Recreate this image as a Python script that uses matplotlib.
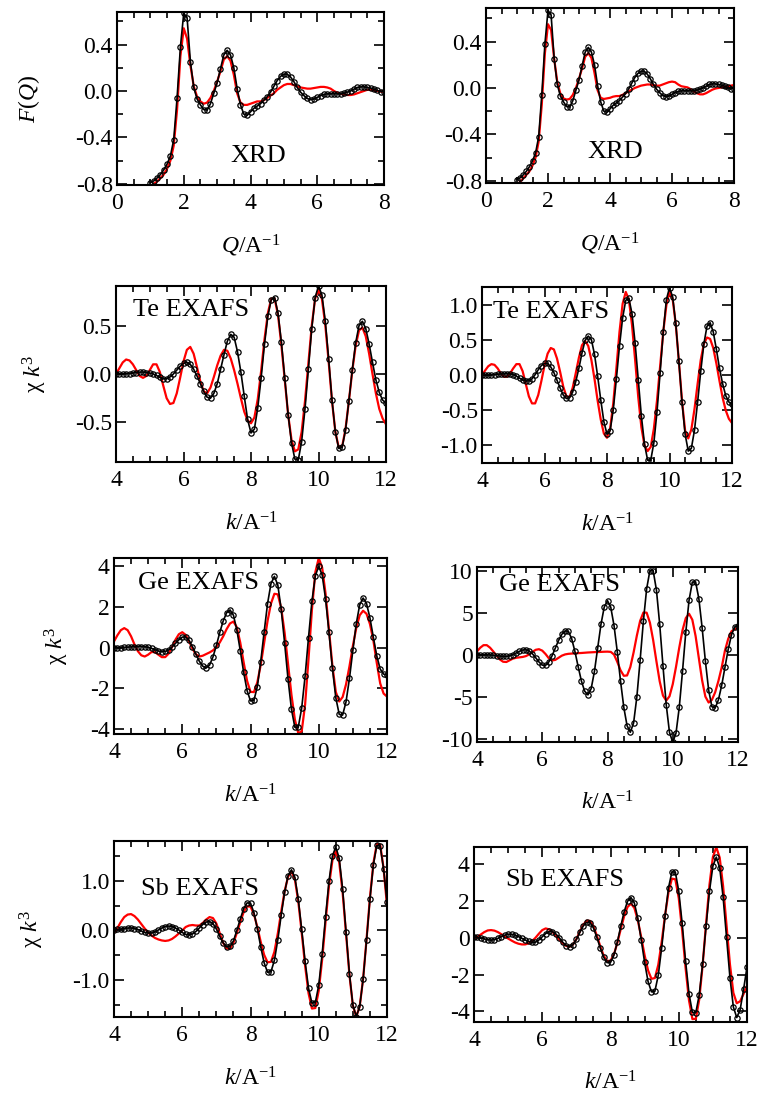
import numpy as np
import matplotlib
matplotlib.use("Agg")
import matplotlib.pyplot as plt
from matplotlib.ticker import MultipleLocator, FuncFormatter, NullLocator

plt.rcParams["font.family"] = "serif"
plt.rcParams["font.serif"] = ["Liberation Serif", "DejaVu Serif"]
plt.rcParams["mathtext.fontset"] = "custom"
plt.rcParams["mathtext.rm"] = "Liberation Serif"
plt.rcParams["mathtext.it"] = "Liberation Serif:italic"
plt.rcParams["axes.unicode_minus"] = False

# sampling grids
q = np.round(np.arange(1.0, 8.01, 0.1), 1)
k = np.round(np.arange(4.0, 12.01, 0.1), 1)

# X-ray structure factor F(Q): experiment and the two model fits
xrd_exp = [
    -0.79, -0.775, -0.75, -0.72, -0.68, -0.63, -0.56, -0.42, -0.06, 0.38,
    0.67, 0.63, 0.25, 0.03, -0.07, -0.12, -0.16, -0.165, -0.11, -0.02,
    0.07, 0.19, 0.31, 0.35, 0.31, 0.20, 0.02, -0.12, -0.20, -0.21,
    -0.18, -0.15, -0.13, -0.11, -0.08, -0.05, -0.01, 0.04, 0.09, 0.125,
    0.145, 0.145, 0.12, 0.08, 0.03, -0.01, -0.04, -0.065, -0.075, -0.07,
    -0.055, -0.04, -0.03, -0.025, -0.025, -0.025, -0.025, -0.025, -0.02, -0.01,
    0.0, 0.015, 0.03, 0.035, 0.035, 0.03, 0.025, 0.015, 0.005, -0.005,
    -0.005]
xrd_fit_a = [
    -0.84, -0.80, -0.78, -0.75, -0.72, -0.67, -0.60, -0.47, -0.16, 0.30,
    0.54, 0.45, 0.22, 0.04, -0.05, -0.09, -0.11, -0.10, -0.06, 0.0,
    0.08, 0.17, 0.27, 0.30, 0.26, 0.14, -0.02, -0.10, -0.12, -0.12,
    -0.11, -0.10, -0.09, -0.09, -0.08, -0.06, -0.04, -0.02, 0.01, 0.03,
    0.05, 0.06, 0.06, 0.05, 0.04, 0.03, 0.025, 0.02, 0.02, 0.025,
    0.03, 0.035, 0.035, 0.03, 0.02, 0.0, -0.015, -0.025, -0.03, -0.035,
    -0.035, -0.03, -0.02, -0.01, 0.0, 0.01, 0.01, 0.005, 0.0, -0.005,
    -0.01]
xrd_fit_b = [
    -0.84, -0.81, -0.78, -0.75, -0.72, -0.67, -0.60, -0.46, -0.14, 0.30,
    0.55, 0.50, 0.25, 0.05, -0.05, -0.09, -0.10, -0.095, -0.06, 0.0,
    0.08, 0.17, 0.27, 0.30, 0.26, 0.13, -0.02, -0.085, -0.095, -0.09,
    -0.085, -0.075, -0.07, -0.07, -0.06, -0.045, -0.03, -0.015, 0.0, 0.01,
    0.02, 0.025, 0.03, 0.03, 0.025, 0.02, 0.02, 0.03, 0.04, 0.05,
    0.055, 0.05, 0.03, 0.015, 0.01, 0.005, -0.01, -0.03, -0.045, -0.055,
    -0.055, -0.045, -0.03, -0.015, -0.005, 0.0, 0.005, 0.01, 0.015, 0.02,
    0.025]

# Te K-edge EXAFS, k^3 weighted
te_exp_a = [
    0.0, 0.0, 0.0, 0.005, 0.005, 0.01, 0.015, 0.02, 0.02, 0.015,
    0.01, 0.0, -0.015, -0.035, -0.05, -0.05, -0.03, 0.0, 0.04, 0.08,
    0.11, 0.12, 0.10, 0.05, -0.02, -0.10, -0.18, -0.24, -0.25, -0.20,
    -0.10, 0.05, 0.20, 0.34, 0.41, 0.38, 0.23, 0.02, -0.23, -0.47,
    -0.61, -0.57, -0.35, -0.04, 0.31, 0.60, 0.77, 0.79, 0.63, 0.33,
    -0.04, -0.42, -0.71, -0.88, -0.89, -0.70, -0.36, 0.05, 0.47, 0.79,
    0.91, 0.82, 0.55, 0.16, -0.27, -0.60, -0.77, -0.76, -0.58, -0.28,
    0.04, 0.32, 0.50, 0.545, 0.47, 0.31, 0.12, -0.06, -0.19, -0.27,
    -0.30]
te_fit_a = [
    0.0, 0.06, 0.12, 0.15, 0.14, 0.10, 0.04, -0.02, -0.04, -0.02,
    0.04, 0.10, 0.10, 0.02, -0.12, -0.25, -0.31, -0.30, -0.20, -0.04,
    0.13, 0.25, 0.28, 0.21, 0.07, -0.08, -0.18, -0.20, -0.14, -0.03,
    0.09, 0.19, 0.25, 0.24, 0.16, 0.04, -0.10, -0.25, -0.39, -0.48,
    -0.51, -0.45, -0.26, 0.03, 0.36, 0.63, 0.78, 0.78, 0.61, 0.30,
    -0.06, -0.42, -0.68, -0.80, -0.78, -0.60, -0.28, 0.11, 0.50, 0.78,
    0.87, 0.78, 0.51, 0.13, -0.28, -0.60, -0.76, -0.75, -0.57, -0.28,
    0.03, 0.29, 0.45, 0.48, 0.39, 0.21, 0.0, -0.20, -0.36, -0.46,
    -0.52]
te_exp_b = [
    0.0, 0.0, 0.0, 0.005, 0.01, 0.015, 0.02, 0.02, 0.025, 0.02,
    0.01, -0.01, -0.04, -0.065, -0.08, -0.08, -0.05, 0.01, 0.08, 0.14,
    0.17, 0.17, 0.12, 0.04, -0.07, -0.18, -0.28, -0.33, -0.32, -0.24,
    -0.09, 0.10, 0.32, 0.50, 0.56, 0.51, 0.30, -0.01, -0.35, -0.66,
    -0.84, -0.79, -0.49, -0.05, 0.42, 0.82, 1.07, 1.10, 0.88, 0.46,
    -0.06, -0.58, -0.98, -1.21, -1.21, -0.96, -0.52, 0.04, 0.62, 1.08,
    1.25, 1.12, 0.74, 0.20, -0.38, -0.84, -1.08, -1.04, -0.78, -0.38,
    0.06, 0.45, 0.70, 0.75, 0.62, 0.37, 0.10, -0.12, -0.29, -0.38,
    -0.41]
te_fit_b = [
    0.0, 0.07, 0.13, 0.16, 0.15, 0.10, 0.03, -0.02, -0.02, 0.03,
    0.10, 0.16, 0.16, 0.06, -0.12, -0.30, -0.40, -0.40, -0.28, -0.08,
    0.14, 0.31, 0.39, 0.37, 0.24, 0.05, -0.16, -0.30, -0.31, -0.18,
    0.03, 0.25, 0.43, 0.49, 0.42, 0.22, -0.05, -0.36, -0.63, -0.83,
    -0.89, -0.76, -0.40, 0.10, 0.62, 1.02, 1.19, 1.08, 0.72, 0.22,
    -0.31, -0.74, -1.00, -1.08, -1.02, -0.76, -0.36, 0.13, 0.62, 1.00,
    1.20, 1.09, 0.73, 0.20, -0.36, -0.79, -0.90, -0.77, -0.48, -0.12,
    0.22, 0.45, 0.54, 0.52, 0.39, 0.17, -0.08, -0.32, -0.50, -0.62,
    -0.68]

# Ge K-edge EXAFS
ge_exp_a = [
    0.0, 0.0, 0.0, 0.01, 0.02, 0.03, 0.04, 0.05, 0.05, 0.04,
    0.01, -0.04, -0.11, -0.17, -0.20, -0.19, -0.12, 0.02, 0.20, 0.38,
    0.51, 0.52, 0.35, 0.04, -0.32, -0.67, -0.91, -1.0, -0.86, -0.46,
    0.10, 0.74, 1.30, 1.70, 1.84, 1.58, 0.86, -0.15, -1.22, -2.11,
    -2.61, -2.59, -1.91, -0.69, 0.77, 2.15, 3.13, 3.48, 3.06, 1.87,
    0.21, -1.55, -3.02, -3.90, -3.90, -2.96, -1.40, 0.49, 2.26, 3.52,
    3.97, 3.55, 2.38, 0.74, -1.01, -2.46, -3.27, -3.30, -2.65, -1.51,
    -0.13, 1.17, 2.09, 2.42, 2.15, 1.45, 0.50, -0.40, -1.05, -1.30,
    -1.35]
ge_fit_a = [
    0.30, 0.60, 0.85, 0.95, 0.85, 0.55, 0.15, -0.18, -0.38, -0.44,
    -0.35, -0.22, -0.22, -0.35, -0.47, -0.47, -0.30, 0.02, 0.38, 0.65,
    0.75, 0.62, 0.30, -0.06, -0.33, -0.44, -0.40, -0.32, -0.24, -0.14,
    0.02, 0.25, 0.55, 0.90, 1.18, 1.27, 0.99, 0.24, -0.73, -1.63,
    -2.17, -2.18, -1.70, -0.85, 0.23, 1.30, 2.15, 2.63, 2.60, 1.93,
    0.72, -0.80, -2.31, -3.52, -4.19, -4.10, -2.79, -0.56, 1.85, 3.69,
    4.38, 3.91, 2.63, 0.87, -0.89, -2.17, -2.64, -2.42, -1.80, -0.92,
    0.08, 0.96, 1.58, 1.80, 1.65, 1.15, 0.35, -0.75, -1.75, -2.25,
    -2.40]
ge_exp_b = [
    0.0, 0.0, 0.0, 0.0, -0.02, -0.05, -0.10, -0.15, -0.18, -0.18,
    -0.12, 0.02, 0.22, 0.42, 0.58, 0.60, 0.45, 0.12, -0.35, -0.85,
    -1.22, -1.26, -0.85, -0.12, 0.80, 1.71, 2.44, 2.85, 2.79, 1.94,
    0.43, -1.39, -3.11, -4.32, -4.76, -4.01, -1.96, 0.84, 3.63, 5.68,
    6.43, 5.66, 3.48, 0.36, -3.13, -6.25, -8.43, -9.20, -8.09, -4.99,
    -0.63, 4.01, 7.85, 10.02, 10.0, 7.70, 3.62, -1.30, -5.93, -9.22,
    -10.40, -9.30, -6.23, -1.91, 2.70, 6.50, 8.65, 8.67, 6.68, 3.24,
    -0.74, -4.18, -6.17, -6.31, -5.35, -3.63, -1.49, 0.65, 2.37, 3.33,
    3.45]
ge_fit_b = [
    0.40, 0.85, 1.15, 1.15, 0.85, 0.40, -0.10, -0.55, -0.82, -0.85,
    -0.65, -0.45, -0.35, -0.30, -0.25, -0.15, 0.05, 0.35, 0.60, 0.67,
    0.50, 0.10, -0.40, -0.67, -0.60, -0.35, -0.10, 0.05, 0.12, 0.15,
    0.18, 0.20, 0.22, 0.25, 0.28, 0.30, 0.32, 0.33, 0.35, 0.37,
    0.38, 0.35, 0.03, -0.84, -1.84, -2.49, -2.45, -1.45, 0.29, 2.29,
    4.03, 5.03, 5.01, 3.83, 1.74, -0.78, -3.15, -4.84, -5.44, -4.93,
    -3.49, -1.43, 0.87, 2.93, 4.37, 4.88, 4.17, 2.24, -0.40, -3.03,
    -4.96, -5.67, -5.35, -4.45, -3.10, -1.50, 0.50, 1.90, 2.80, 3.05,
    3.20]

# Sb K-edge EXAFS
sb_exp_a = [
    0.0, 0.02, 0.03, 0.04, 0.05, 0.05, 0.04, 0.02, -0.01, -0.04,
    -0.05, -0.05, -0.03, 0.01, 0.05, 0.08, 0.09, 0.08, 0.05, 0.01,
    -0.04, -0.08, -0.09, -0.07, -0.02, 0.05, 0.12, 0.17, 0.18, 0.14,
    0.03, -0.12, -0.25, -0.33, -0.32, -0.21, 0.0, 0.23, 0.44, 0.555,
    0.55, 0.36, 0.04, -0.33, -0.65, -0.84, -0.83, -0.60, -0.19, 0.31,
    0.77, 1.10, 1.22, 1.07, 0.63, 0.02, -0.62, -1.16, -1.46, -1.45,
    -1.10, -0.47, 0.28, 0.99, 1.50, 1.68, 1.45, 0.83, -0.03, -0.88,
    -1.50, -1.73, -1.53, -0.98, -0.20, 0.63, 1.32, 1.71, 1.70, 1.24,
    0.58]
sb_fit_a = [
    -0.05, 0.05, 0.17, 0.27, 0.32, 0.33, 0.29, 0.22, 0.13, 0.04,
    -0.04, -0.10, -0.15, -0.18, -0.20, -0.21, -0.20, -0.17, -0.12, -0.06,
    0.0, 0.07, 0.10, 0.11, 0.10, 0.10, 0.15, 0.22, 0.27, 0.25,
    0.14, -0.055, -0.25, -0.36, -0.365, -0.25, -0.05, 0.17, 0.37, 0.485,
    0.48, 0.33, 0.07, -0.23, -0.49, -0.64, -0.63, -0.43, -0.06, 0.38,
    0.79, 1.08, 1.19, 1.03, 0.585, -0.04, -0.71, -1.26, -1.57, -1.56,
    -1.21, -0.58, 0.18, 0.90, 1.41, 1.59, 1.37, 0.76, -0.07, -0.90,
    -1.51, -1.73, -1.53, -0.97, -0.18, 0.66, 1.35, 1.74, 1.73, 1.25,
    0.50]
sb_exp_b = [
    0.05, 0.03, -0.01, -0.06, -0.10, -0.13, -0.10, -0.03, 0.06, 0.14,
    0.195, 0.19, 0.15, 0.07, -0.025, -0.12, -0.20, -0.24, -0.24, -0.12,
    0.055, 0.23, 0.345, 0.34, 0.21, 0.0, -0.24, -0.42, -0.49, -0.38,
    -0.09, 0.29, 0.64, 0.84, 0.83, 0.54, 0.03, -0.55, -1.06, -1.35,
    -1.34, -0.94, -0.24, 0.62, 1.42, 1.99, 2.19, 1.89, 1.06, -0.10,
    -1.34, -2.37, -2.94, -2.91, -2.04, -0.53, 1.21, 2.72, 3.59, 3.57,
    2.54, 0.78, -1.27, -3.03, -4.06, -4.07, -3.11, -1.42, 0.62, 2.54,
    3.90, 4.39, 3.81, 2.21, 0.03, -2.16, -3.76, -4.34, -3.90, -2.80,
    -1.60]
sb_fit_b = [
    -0.04, 0.05, 0.18, 0.31, 0.40, 0.42, 0.39, 0.31, 0.20, 0.08,
    -0.04, -0.15, -0.25, -0.32, -0.36, -0.36, -0.30, -0.18, 0.0, 0.22,
    0.42, 0.51, 0.46, 0.32, 0.12, -0.10, -0.30, -0.44, -0.49, -0.37,
    -0.07, 0.34, 0.71, 0.93, 0.92, 0.63, 0.12, -0.46, -0.97, -1.26,
    -1.25, -0.90, -0.28, 0.47, 1.18, 1.68, 1.86, 1.62, 0.96, 0.04,
    -0.95, -1.77, -2.23, -2.19, -1.47, -0.22, 1.24, 2.49, 3.22, 3.18,
    2.16, 0.40, -1.64, -3.40, -4.42, -4.41, -3.36, -1.49, 0.76, 2.88,
    4.39, 4.93, 4.36, 2.81, 0.685, -1.44, -2.99, -3.56, -3.45, -3.05,
    -2.60]

W, H = 758, 1100
fig = plt.figure(figsize=(W / 100, H / 100), dpi=100)


def rect_px(x0, y0, x1, y1):
    return [x0 / W, 1 - y1 / H, (x1 - x0) / W, (y1 - y0) / H]


def tick_fmt(decimals):
    def f(v, pos):
        if abs(v) < 1e-9:
            v = 0.0
        return f"{v:.{decimals}f}"
    return FuncFormatter(f)


chi_label = "χ $k^{3}$"
q_label = "$Q$/A$^{-1}$"
k_label = "$k$/A$^{-1}$"

panels = [
    dict(box=(117, 12, 384, 185), x=q, exp=xrd_exp, fit=xrd_fit_a, xlim=(0, 8),
         ylim=(-0.81, 0.68), ymaj=0.4, ymin=0.2, dec=1, tag="XRD",
         tag_xy=(0.53, 0.17), tag_ha="center", xlabel=q_label,
         ylabel="$F$($Q$)", ylab_x=-0.33),
    dict(box=(486, 8, 734, 183), x=q, exp=xrd_exp, fit=xrd_fit_b, xlim=(0, 8),
         ylim=(-0.82, 0.69), ymaj=0.4, ymin=0.2, dec=1, tag="XRD",
         tag_xy=(0.52, 0.18), tag_ha="center", xlabel=q_label),
    dict(box=(116, 286, 386, 462), x=k, exp=te_exp_a, fit=te_fit_a, xlim=(4, 12),
         ylim=(-0.91, 0.91), ymaj=0.5, ymin=None, dec=1, tag="Te EXAFS",
         tag_xy=(0.063, 0.865), tag_ha="left", xlabel=k_label,
         ylabel=chi_label, ylab_x=-0.30),
    dict(box=(482, 287, 732, 463), x=k, exp=te_exp_b, fit=te_fit_b, xlim=(4, 12),
         ylim=(-1.25, 1.26), ymaj=0.5, ymin=None, dec=1, tag="Te EXAFS",
         tag_xy=(0.044, 0.86), tag_ha="left", xlabel=k_label),
    dict(box=(114, 558, 387, 734), x=k, exp=ge_exp_a, fit=ge_fit_a, xlim=(4, 12),
         ylim=(-4.23, 4.38), ymaj=2, ymin=None, dec=0, tag="Ge EXAFS",
         tag_xy=(0.088, 0.858), tag_ha="left", xlabel=k_label,
         ylabel=chi_label, ylab_x=-0.21),
    dict(box=(477, 567, 738, 742), x=k, exp=ge_exp_b, fit=ge_fit_b, xlim=(4, 12),
         ylim=(-10.36, 10.44), ymaj=5, ymin=None, dec=0, tag="Ge EXAFS",
         tag_xy=(0.084, 0.897), tag_ha="left", xlabel=k_label),
    dict(box=(114, 841, 387, 1017), x=k, exp=sb_exp_a, fit=sb_fit_a, xlim=(4, 12),
         ylim=(-1.74, 1.80), ymaj=1.0, ymin=0.5, dec=1, tag="Sb EXAFS",
         tag_xy=(0.10, 0.73), tag_ha="left", xlabel=k_label,
         ylabel=chi_label, ylab_x=-0.30),
    dict(box=(474, 847, 747, 1022), x=k, exp=sb_exp_b, fit=sb_fit_b, xlim=(4, 12),
         ylim=(-4.58, 4.94), ymaj=2, ymin=None, dec=0, tag="Sb EXAFS",
         tag_xy=(0.117, 0.81), tag_ha="left", xlabel=k_label),
]

for p in panels:
    ax = fig.add_axes(rect_px(*p["box"]))
    ax.plot(p["x"], p["fit"], color="red", lw=1.6, zorder=2)
    ax.plot(p["x"], p["exp"], color="black", lw=1.2, marker="o", ms=3.8,
            mfc="none", mec="black", mew=0.9, zorder=3)

    ax.set_xlim(*p["xlim"])
    ax.set_ylim(*p["ylim"])
    ax.xaxis.set_major_locator(MultipleLocator(2))
    ax.xaxis.set_minor_locator(MultipleLocator(0.5))
    ax.xaxis.set_major_formatter(tick_fmt(0))
    ax.yaxis.set_major_locator(MultipleLocator(p["ymaj"]))
    if p["ymin"]:
        ax.yaxis.set_minor_locator(MultipleLocator(p["ymin"]))
    else:
        ax.yaxis.set_minor_locator(NullLocator())
    ax.yaxis.set_major_formatter(tick_fmt(p["dec"]))

    ax.tick_params(which="both", direction="in", top=True, right=True,
                   width=1.2, labelsize=17)
    ax.tick_params(which="major", length=7)
    ax.tick_params(which="minor", length=4)
    ax.tick_params(axis="x", pad=6)
    ax.tick_params(axis="y", pad=3)
    for s in ax.spines.values():
        s.set_linewidth(1.5)

    ax.text(p["tag_xy"][0], p["tag_xy"][1], p["tag"], transform=ax.transAxes,
            fontsize=19, ha=p["tag_ha"], va="center", zorder=5)

    ax.set_xlabel(p["xlabel"], fontsize=17, va="center")
    ax.xaxis.set_label_coords(0.5, -0.35)
    if "ylabel" in p:
        ax.set_ylabel(p["ylabel"], fontsize=17, va="center")
        ax.yaxis.set_label_coords(p["ylab_x"], 0.5)

fig.savefig("out.png", dpi=100)
